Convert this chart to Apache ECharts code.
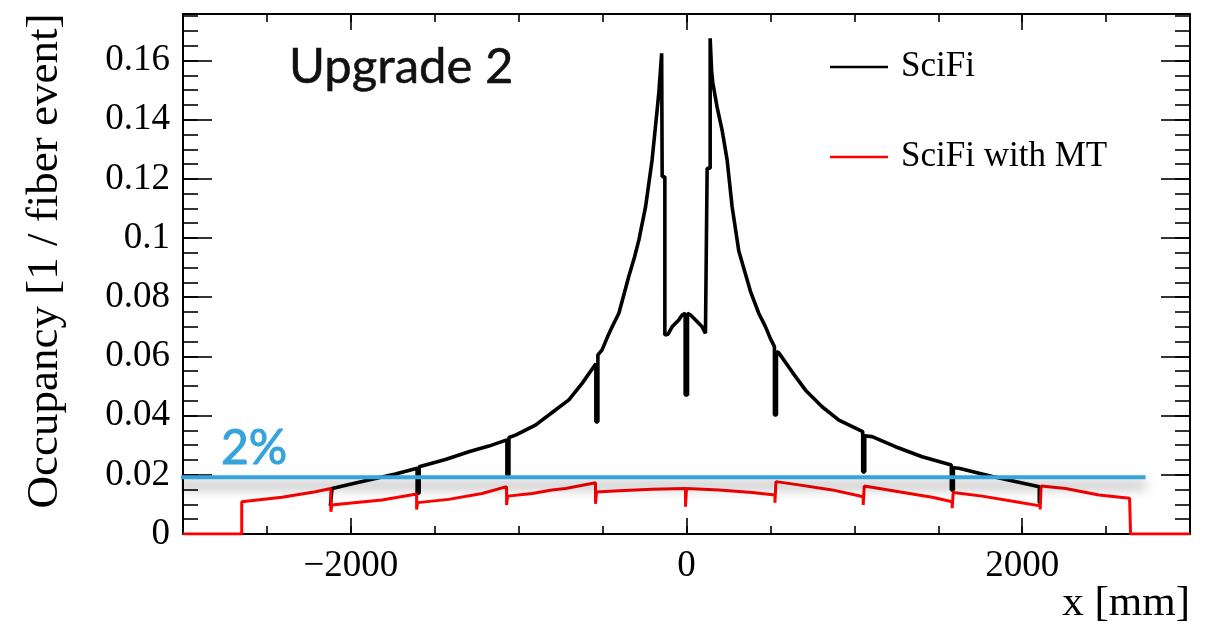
<!DOCTYPE html>
<html>
<head>
<meta charset="utf-8">
<script src="https://cdn.jsdelivr.net/npm/echarts@6/dist/echarts.min.js"></script>
<style>
html,body{margin:0;padding:0;background:#fff;}
#chart{width:1217px;height:626px;}
</style>
</head>
<body>
<div id="chart"></div>
<script>
// ---- data ----
const sciFiX = [-2122,-2112,-2112,-1933,-1734,-1605,-1605,-1593,-1593,-1436,-1297,-1178,-1070,-1070,-1058,-1058,-1019,-900,-781,-701,-622,-540,-540,-528,-528,-503,-470,-443,-403,-370,-344,-310,-284,-244,-205,-175,-165,-155,-148,-145,-145,-129,-129,-110,-86,-46,-26,-8,-8,6,6,24,54,93,113,123,123,141,141,148,150,157,182,212,242,272,312,381,431,471,500,524,524,536,536,550,629,709,808,908,1050,1050,1062,1062,1106,1245,1404,1578,1578,1590,1590,1623,1822,2102,2102,2114];
const sciFiY = [0.0095,0.0095,0.0154,0.0177,0.0203,0.0222,0.0138,0.0138,0.0227,0.0252,0.0278,0.0297,0.0318,0.0199,0.0199,0.0326,0.0334,0.0368,0.0419,0.0453,0.0509,0.0575,0.0379,0.0379,0.0605,0.0622,0.0667,0.0700,0.0746,0.0815,0.0870,0.0935,0.0993,0.1105,0.1264,0.1432,0.1490,0.1568,0.1624,0.1624,0.1207,0.1207,0.0672,0.0675,0.0700,0.0723,0.0740,0.0746,0.0470,0.0470,0.0746,0.0740,0.0723,0.0700,0.0678,0.0678,0.1236,0.1236,0.1675,0.1675,0.1560,0.1524,0.1443,0.1365,0.1264,0.1105,0.0955,0.0820,0.0745,0.0700,0.0660,0.0633,0.0402,0.0402,0.0616,0.0612,0.0548,0.0486,0.0430,0.0385,0.0346,0.0210,0.0210,0.0332,0.0329,0.0295,0.0261,0.0233,0.0149,0.0149,0.0224,0.0222,0.0194,0.0160,0.0106,0.0106];
const mtX = [-3000,-2650,-2650,-2410,-2211,-2119,-2119,-2113,-2113,-2012,-1814,-1608,-1608,-1602,-1602,-1417,-1218,-1072,-1072,-1066,-1066,-920,-801,-721,-542,-542,-536,-536,-403,-205,-6,-6,0,0,193,391,527,527,533,533,669,868,1053,1053,1059,1059,1265,1464,1583,1583,1589,1589,1762,1961,2107,2107,2113,2113,2259,2457,2640,2646,2646,3000];
const mtY = [0,0,0.0109,0.0124,0.0143,0.0154,0.0075,0.0075,0.0098,0.0104,0.0115,0.0135,0.0083,0.0083,0.0106,0.0117,0.0137,0.0160,0.0098,0.0098,0.0128,0.0137,0.0149,0.0154,0.0173,0.0102,0.0102,0.0142,0.0146,0.0151,0.0154,0.0092,0.0092,0.0154,0.0149,0.0140,0.0132,0.0106,0.0106,0.0177,0.0166,0.0149,0.0126,0.0098,0.0098,0.0162,0.0143,0.0124,0.0109,0.0087,0.0087,0.0140,0.0128,0.0109,0.0095,0.0083,0.0083,0.0162,0.0154,0.0132,0.0121,0.0115,0,0];
const thresholdX = [-3040, 2735];
const thresholdY = [0.0192, 0.0192];
const seriesNames = ['SciFi', 'SciFi with MT'];
const majorXTicks = [-2000, 0, 2000];
const majorYTicks = [0, 0.02, 0.04, 0.06, 0.08, 0.1, 0.12, 0.14, 0.16];

// ---- build ----
const zip = (xs, ys) => xs.map((x, i) => [x, ys[i]]);
const serif = '"Liberation Serif", "Times New Roman", serif';
const isMult = (v, s) => Math.abs(v / s - Math.round(v / s)) < 1e-6;
const fmtX = v => isMult(v, 2000) ? (v < 0 ? '\u2212' + Math.abs(v) : String(v)) : '';
const fmtY = v => isMult(v, 0.02) ? (Math.abs(v) < 1e-9 ? '0' : String(parseFloat(v.toFixed(2)))) : '';

const tickStyle = {color: '#000', width: 1.6};
function xAx(pos, len, major, showLine, showLabel) {
  const a = {
    type: 'value', position: pos, min: -3000, max: 3000, interval: 500,
    axisLine: {show: showLine, onZero: false, lineStyle: {color: '#000', width: 2}},
    axisTick: {show: true, inside: true, length: len, lineStyle: tickStyle},
    axisLabel: {show: showLabel, formatter: fmtX, fontFamily: serif, fontSize: 37, color: '#000', margin: 14},
    splitLine: {show: false}
  };
  if (major) a.axisTick.customValues = majorXTicks;
  return a;
}
function yAx(pos, len, major, showLine, showLabel) {
  const a = {
    type: 'value', position: pos, min: 0, max: 0.1757, interval: 0.005,
    axisLine: {show: showLine, onZero: false, lineStyle: {color: '#000', width: 2}},
    axisTick: {show: true, inside: true, length: len, lineStyle: tickStyle},
    axisLabel: {show: showLabel, formatter: fmtY, fontFamily: serif, fontSize: 37, color: '#000', margin: 13},
    splitLine: {show: false}
  };
  if (major) a.axisTick.customValues = majorYTicks;
  return a;
}

const chart = echarts.init(document.getElementById('chart'), null, {renderer: 'canvas'});
chart.setOption({
  animation: false,
  backgroundColor: '#fff',
  grid: {left: 183, right: 27, top: 14, bottom: 92, containLabel: false},
  xAxis: [xAx('bottom', 8, false, true, true), xAx('bottom', 16, true, false, false), xAx('top', 8, false, true, false), xAx('top', 16, true, false, false)],
  yAxis: [yAx('left', 15, false, true, true), yAx('left', 29, true, false, false), yAx('right', 15, false, true, false), yAx('right', 29, true, false, false)],
  legend: {
    data: seriesNames, orient: 'vertical', left: 830, top: 47, padding: 0,
    icon: 'rect', itemWidth: 58, itemHeight: 2.5, itemGap: 50,
    textStyle: {fontFamily: serif, fontSize: 35, color: '#000', lineHeight: 40, padding: [0, 0, 0, 8]},
    selectedMode: false
  },
  series: [
    {name: seriesNames[0], type: 'line', xAxisIndex: 0, yAxisIndex: 0, data: zip(sciFiX, sciFiY), symbol: 'none',
     lineStyle: {color: '#000', width: 3.6}, itemStyle: {color: '#000'}, z: 3},
    {name: seriesNames[1], type: 'line', xAxisIndex: 0, yAxisIndex: 0, data: zip(mtX, mtY), symbol: 'none',
     lineStyle: {color: '#ff0000', width: 3}, itemStyle: {color: '#ff0000'}, z: 4},
    {name: '2%', type: 'line', xAxisIndex: 0, yAxisIndex: 0, data: zip(thresholdX, thresholdY), symbol: 'none', clip: false,
     lineStyle: {color: '#35a3dc', width: 4, shadowColor: 'rgba(0,0,0,0.5)', shadowBlur: 12, shadowOffsetY: 8}, z: 5, silent: true}
  ],
  graphic: [
    {type: 'text', style: {text: 'Upgrade 2', x: 289, y: 67, fill: '#111', stroke: '#111', lineWidth: 0.5, font: '49px Lato, "Noto Sans", sans-serif', textVerticalAlign: 'middle'}},
    {type: 'text', style: {text: '2%', x: 221, y: 449, fill: '#35a3dc', stroke: '#35a3dc', lineWidth: 1, font: '48px Lato, "Noto Sans", sans-serif', textVerticalAlign: 'middle'}},
    {type: 'text', rotation: Math.PI / 2, x: 45, y: 261, style: {text: 'Occupancy [1 / fiber event]', x: 0, y: 0, fill: '#000', font: '45px "Liberation Serif", serif', textAlign: 'center', textVerticalAlign: 'middle'}},
    {type: 'text', style: {text: 'x [mm]', x: 1190, y: 604, fill: '#000', font: '43px "Liberation Serif", serif', textAlign: 'right', textVerticalAlign: 'middle'}}
  ]
});
</script>
</body>
</html>
